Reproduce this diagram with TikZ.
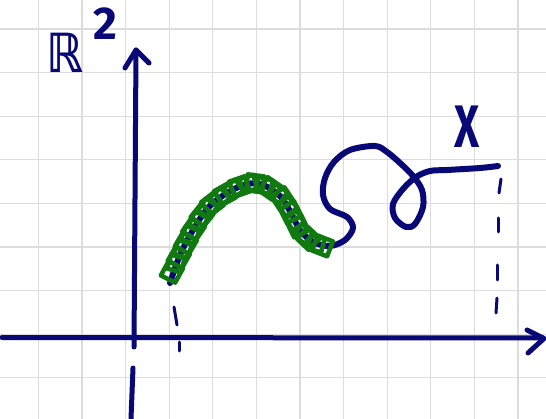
\documentclass[tikz,border=0pt]{standalone}
\usepackage{fontspec}
\newfontfamily\handfont{Fira Sans}
\newfontfamily\symbfont{DejaVu Sans}
\usetikzlibrary{decorations.markings}
\definecolor{ink}{RGB}{8,8,118}
\definecolor{greenink}{RGB}{16,122,16}
\definecolor{gridgray}{RGB}{220,220,220}
\tikzset{
  gridline/.style={draw=gridgray, line width=1.2pt},
  axisline/.style={draw=ink, line width=5pt, line cap=round, line join=round},
  curveline/.style={draw=ink, line width=6pt, line cap=round, line join=round},
  dashseg/.style={draw=ink, line width=3pt, line cap=round},
  sq/.style={draw=greenink, line width=4.5pt, line join=round, line cap=round},
  lbl/.style={text=ink, inner sep=0pt},
}
\begin{document}
\begin{tikzpicture}[x=1pt,y=-1pt]
\fill[white] (0,0) rectangle (546,419);
\useasboundingbox (0,0) rectangle (546,419);
% grid
\foreach \k in {0,...,11} \draw[gridline] ({38.3+43.6*\k},0) -- ({38.3+43.6*\k},419);
\foreach \k in {0,...,8} \draw[gridline] (0,{29+43.6*\k}) -- (546,{29+43.6*\k});
% horizontal axis
\coordinate (xstart) at (2,337.5);
\coordinate (xend) at (543,338);
\draw[axisline] (xstart) -- (xend);
\draw[axisline] (527,330) -- (544,338.5) -- (528,353);
% vertical axis
\coordinate (ytop) at (136,50);
\coordinate (ymid) at (134,347);
\coordinate (ylow) at (133,368);
\coordinate (ybot) at (131,419);
\draw[axisline] (ymid) -- (ytop);
\draw[axisline] (ylow) -- (ybot);
\draw[axisline] (125,68) -- (ytop) -- (149,63);
% curve X
\draw[curveline] plot[smooth, tension=0.55] coordinates {
  (170,283) (180,255) (193,230) (208,208) (227,193) (247,184) (263,185)
  (280,196) (291,213) (300,230) (313,242) (330,246)
  (345,240) (353,228) (347,217) (330,209) (323,195) (325,178) (334,162)
  (350,150) (375,146) (387,152) (400,163) (413,176) (422,190) (423,207)
  (415,224) (406,227) (395,218) (393,204) (403,189) (416,177) (430,171)
  (447,170) (480,168) (498,166)};
% green squares along the first part (two overlapping chains)
\path[postaction={decorate}, decoration={markings,
   mark=between positions 0.02 and 0.99 step 16pt with {\draw[sq] (-8,-8.5) -- (8.5,-7.5) -- (7.5,8.5) -- (-8.5,7.5) -- cycle;}}]
  plot[smooth, tension=0.55] coordinates {
  (170,276) (180,255) (193,230) (208,208) (227,193) (247,184) (263,185)
  (280,196) (291,213) (300,230) (313,242) (326,247)};
\path[postaction={decorate}, decoration={markings,
   mark=between positions 0.06 and 0.99 step 16pt with {\draw[sq, rotate=12] (-7,-7.5) -- (7.5,-6.5) -- (6.5,7.5) -- (-7.5,6.5) -- cycle;}}]
  plot[smooth, tension=0.55] coordinates {
  (170,276) (180,255) (193,230) (208,208) (227,193) (247,184) (263,185)
  (280,196) (291,213) (300,230) (313,242) (326,247)};
% dashed vertical lines
\draw[dashseg] (174,307) -- (177,325);
\draw[dashseg] (179,342) -- (179,351);
\draw[dashseg] (501,179) -- (499,193);
\draw[dashseg] (498,218) -- (498,232);
\draw[dashseg] (497,265) -- (497,280);
\draw[dashseg] (497,298) -- (496,313);
% labels
\node[lbl, anchor=base west] (rlabel) at (46,73)
  {\scalebox{0.85}[1]{\symbfont\bfseries\fontsize{54}{54}\selectfont ℝ}\hspace{11pt}\raisebox{33pt}{\handfont\bfseries\fontsize{46}{46}\selectfont 2}};
\node[lbl] (xlabel) at (467,127) {\scalebox{0.72}[1]{\handfont\bfseries\fontsize{60}{60}\selectfont X}};
\end{tikzpicture}
\end{document}
